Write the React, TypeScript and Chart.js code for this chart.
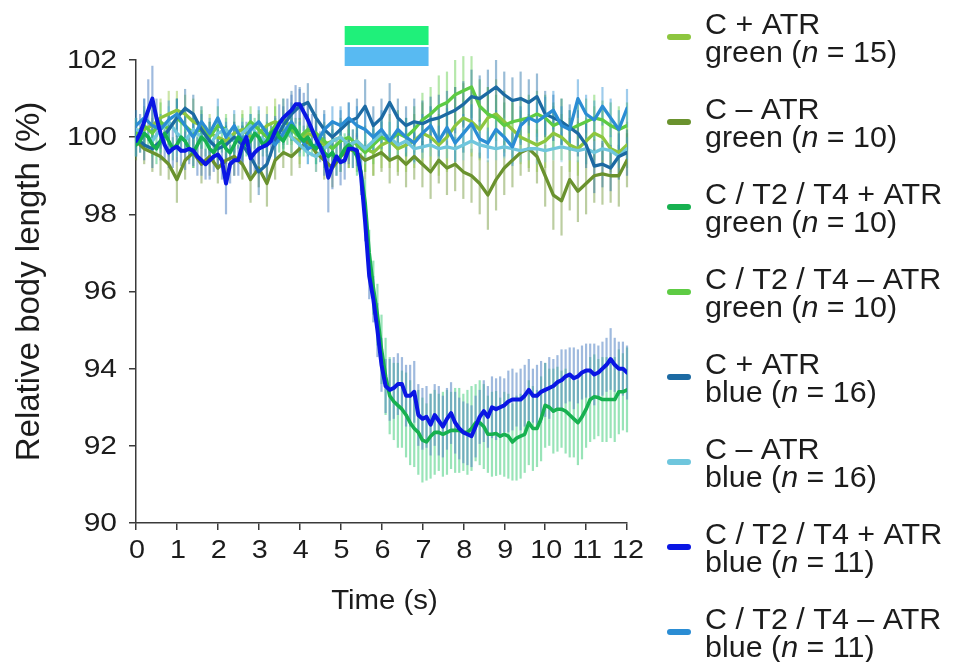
import React, { useEffect, useRef } from "react";
import { Chart, registerables } from "chart.js";

Chart.register(...registerables);

// Axes
const X_MIN = 0;
const X_MAX = 12;
const X_STEP = 1;
const Y_MIN = 90;
const Y_MAX = 102;
const Y_STEP = 2;

// Light stimulus window (s)
const STIM_START = 5.1;
const STIM_END = 7.15;

// Sampling intervals (s)
const FINE_DT = 0.1;
const COARSE_DT = 0.2;

// C / T2 / T4 + ATR, blue light (0.1 s samples)
const CT_ATR_BLUE = [
  99.9, 100.1, 100.4, 100.7, 101.0, 100.5, 100.1, 99.8, 99.6, 99.7,
  99.75, 99.65, 99.65, 99.7, 99.65, 99.5, 99.4, 99.3, 99.4, 99.5,
  99.55, 99.4, 98.8, 99.3, 99.4, 99.4, 99.8, 100.0, 99.45, 99.6,
  99.7, 99.75, 99.8, 99.9, 100.15, 100.35, 100.5, 100.6, 100.7, 100.85,
  100.85, 100.65, 100.45, 100.2, 99.95, 99.75, 99.5, 98.95, 99.25, 99.5,
  99.35, 99.4, 99.7, 99.7, 99.65, 99.0, 97.8, 96.4, 95.8, 95.0,
  94.1, 93.55, 93.45, 93.5, 93.6, 93.6, 93.3, 93.3, 93.4, 92.8,
  92.7, 92.75, 92.55, 92.8, 92.65, 92.5, 92.7, 92.85, 92.6, 92.45,
  92.35, 92.3, 92.25, 92.5, 92.75, 92.9, 92.75, 93.0, 92.95, 93.0,
  93.05, 93.15, 93.2, 93.2, 93.2, 93.3, 93.45, 93.3, 93.3, 93.4,
  93.45, 93.5, 93.55, 93.65, 93.7, 93.8, 93.85, 93.75, 93.8, 93.9,
  93.95, 93.95, 93.85, 93.9, 94.0, 94.1, 94.25, 94.1, 94.0, 94.0,
  93.9,
];
const CT_ATR_BLUE_SEM = [
  0.4, 0.5, 0.6, 0.8, 0.85, 0.5, 0.4, 0.4, 0.4, 0.5,
  0.4, 0.4, 0.5, 0.4, 0.4, 0.5, 0.4, 0.4, 0.5, 0.4,
  0.4, 0.5, 0.8, 0.5, 0.4, 0.4, 0.5, 0.4, 0.4, 0.5,
  0.4, 0.5, 0.4, 0.4, 0.4, 0.5, 0.5, 0.4, 0.4, 0.5,
  0.4, 0.5, 0.4, 0.4, 0.5, 0.4, 0.5, 0.9, 0.6, 0.5,
  0.6, 0.5, 0.4, 0.5, 0.4, 0.5, 0.5, 0.6, 0.6, 0.7,
  0.7, 0.7, 0.8, 0.8, 0.8, 0.7, 0.8, 0.8, 0.8, 0.8,
  0.8, 0.8, 0.8, 0.8, 0.9, 0.8, 0.8, 0.8, 0.8, 0.8,
  0.8, 0.8, 0.8, 0.8, 0.7, 0.8, 0.8, 0.8, 0.8, 0.8,
  0.7, 0.8, 0.8, 0.7, 0.8, 0.8, 0.8, 0.7, 0.8, 0.8,
  0.7, 0.8, 0.7, 0.7, 0.8, 0.7, 0.7, 0.8, 0.7, 0.7,
  0.7, 0.7, 0.8, 0.7, 0.7, 0.7, 0.8, 0.7, 0.7, 0.7,
  0.7,
];

// C / T2 / T4 + ATR, green light (0.1 s samples)
const CT_ATR_GREEN = [
  99.8, 99.9, 100.1, 100.0, 99.8, 99.7, 99.9, 100.1, 99.9, 99.7,
  99.8, 100.0, 99.9, 99.7, 99.6, 99.8, 100.0, 99.9, 99.7, 99.6,
  99.8, 99.9, 99.7, 99.6, 99.8, 100.0, 99.9, 99.8, 99.9, 100.1,
  100.0, 99.8, 99.9, 100.1, 100.2, 100.0, 99.9, 100.1, 100.3, 100.2,
  100.0, 99.9, 100.0, 99.8, 99.7, 99.8, 99.6, 99.5, 99.6, 99.4,
  99.5, 99.7, 99.8, 99.7, 99.5, 99.1, 98.3, 97.0, 96.1, 95.4,
  94.5, 93.8, 93.3, 93.15, 93.05, 92.95, 92.8, 92.6, 92.45, 92.35,
  92.15, 92.1, 92.25, 92.35, 92.35, 92.3, 92.35, 92.4, 92.4, 92.4,
  92.35, 92.35, 92.45, 92.6, 92.6, 92.5, 92.3, 92.3, 92.32, 92.25,
  92.3, 92.25, 92.1, 92.2, 92.25, 92.3, 92.6, 92.45, 92.45, 92.7,
  93.05, 93.0, 92.9, 92.95, 92.95, 92.9, 92.8, 92.7, 92.6, 92.75,
  92.95, 93.2, 93.27, 93.25, 93.2, 93.2, 93.2, 93.2, 93.4, 93.4,
  93.45,
];
const CT_ATR_GREEN_SEM = [
  0.3, 0.3, 0.4, 0.3, 0.3, 0.4, 0.3, 0.3, 0.4, 0.3,
  0.3, 0.4, 0.3, 0.3, 0.4, 0.3, 0.3, 0.4, 0.3, 0.3,
  0.4, 0.3, 0.3, 0.4, 0.3, 0.3, 0.4, 0.3, 0.3, 0.4,
  0.3, 0.3, 0.4, 0.3, 0.3, 0.4, 0.3, 0.3, 0.4, 0.3,
  0.3, 0.4, 0.3, 0.3, 0.4, 0.3, 0.4, 0.4, 0.3, 0.4,
  0.4, 0.4, 0.4, 0.5, 0.5, 0.5, 0.6, 0.6, 0.7, 0.8,
  0.9, 1.0, 1.0, 1.0, 1.1, 1.0, 1.1, 1.1, 1.0, 1.1,
  1.1, 1.0, 1.1, 1.1, 1.0, 1.1, 1.1, 1.0, 1.1, 1.1,
  1.0, 1.1, 1.1, 1.0, 1.1, 1.1, 1.0, 1.1, 1.1, 1.0,
  1.1, 1.1, 1.0, 1.1, 1.1, 1.0, 1.1, 1.1, 1.0, 1.1,
  1.1, 1.0, 1.1, 1.1, 1.0, 1.1, 1.1, 1.0, 1.1, 1.1,
  1.0, 1.1, 1.1, 1.0, 1.1, 1.1, 1.0, 1.1, 1.1, 1.0,
  1.1,
];

// C + ATR, green light (0.2 s samples)
const C_ATR_GREEN = [
  100.0, 100.2, 100.3, 100.5, 100.6, 100.7, 100.6, 100.4, 100.3, 100.1,
  100.0, 99.9, 100.1, 100.2, 100.0, 100.1, 100.3, 100.4, 100.2, 100.0,
  99.9, 100.1, 100.0, 99.8, 99.9, 100.0, 99.8, 99.9, 99.7, 99.6,
  99.8, 99.9, 99.7, 99.8, 99.9, 100.1, 100.0, 99.8, 100.0, 100.3,
  100.5, 100.4, 100.2, 100.5, 100.6, 100.4, 100.2, 100.0, 99.9, 99.8,
  99.9, 100.1, 100.0, 99.8, 99.7, 99.9, 100.1, 100.0, 99.7, 99.6,
  99.8,
];
const C_ATR_GREEN_SEM = [
  0.5, 0.5, 0.6, 0.5, 0.6, 0.5, 0.5, 0.6, 0.5, 0.5,
  0.5, 0.6, 0.5, 0.5, 0.6, 0.5, 0.5, 0.6, 0.5, 0.5,
  0.6, 0.5, 0.5, 0.6, 0.5, 0.5, 0.6, 0.5, 0.6, 0.6,
  0.6, 0.7, 0.6, 0.7, 0.7, 0.8, 0.8, 0.8, 0.9, 1.0,
  0.9, 0.9, 0.8, 0.8, 0.9, 0.8, 0.7, 0.7, 0.7, 0.7,
  0.7, 0.7, 0.6, 0.7, 0.7, 0.6, 0.7, 0.7, 0.6, 0.6,
  0.6,
];

// C - ATR, green light (0.2 s samples)
const C_NOATR_GREEN = [
  99.9, 99.7, 99.6, 99.5, 99.3, 98.9, 99.4, 99.6, 99.3, 99.5,
  99.2, 99.4, 99.5, 99.3, 98.9, 99.2, 98.8, 99.4, 99.6, 99.5,
  99.7, 99.9, 99.6, 99.4, 99.2, 99.5, 99.7, 99.6, 99.4, 99.5,
  99.6, 99.4, 99.5, 99.3, 99.5, 99.3, 99.1, 99.4, 99.2, 99.3,
  99.1, 99.0, 98.8, 98.5, 98.9, 99.2, 99.4, 99.6, 99.7, 99.5,
  99.0, 98.5, 98.35, 98.9, 98.6, 98.8, 99.0, 99.05, 99.0, 99.0,
  99.4,
];
const C_NOATR_GREEN_SEM = [
  0.5, 0.4, 0.5, 0.5, 0.4, 0.6, 0.5, 0.4, 0.5, 0.5,
  0.4, 0.5, 0.5, 0.4, 0.6, 0.5, 0.6, 0.5, 0.4, 0.5,
  0.5, 0.4, 0.5, 0.5, 0.5, 0.4, 0.5, 0.5, 0.5, 0.5,
  0.5, 0.6, 0.5, 0.6, 0.6, 0.6, 0.7, 0.6, 0.7, 0.7,
  0.7, 0.7, 0.8, 0.9, 0.8, 0.7, 0.7, 0.6, 0.6, 0.7,
  0.8, 0.9, 0.9, 0.8, 0.8, 0.8, 0.7, 0.8, 0.7, 0.8,
  0.7,
];

// C / T2 / T4 - ATR, green light (0.2 s samples)
const CT_NOATR_GREEN = [
  100.1, 100.3, 100.1, 100.4, 100.2, 100.5, 100.3, 100.1, 100.2, 100.0,
  100.3, 100.2, 99.9, 100.1, 100.4, 100.2, 100.0, 100.3, 100.5, 100.2,
  100.0, 100.2, 100.1, 99.9, 99.7, 99.9, 100.0, 99.8, 99.6, 99.8,
  100.0, 99.9, 100.1, 100.0, 100.2, 100.45, 100.6, 100.8, 100.9, 101.1,
  101.2, 101.3, 100.8, 100.6, 100.5, 100.3, 100.4, 100.45, 100.5, 100.6,
  100.5, 100.3, 100.4, 100.2, 100.3, 100.4, 100.5, 100.45, 100.3, 100.2,
  100.3,
];
const CT_NOATR_GREEN_SEM = [
  0.4, 0.5, 0.4, 0.5, 0.4, 0.5, 0.5, 0.4, 0.5, 0.4,
  0.5, 0.4, 0.5, 0.5, 0.4, 0.5, 0.4, 0.5, 0.5, 0.4,
  0.5, 0.4, 0.5, 0.4, 0.5, 0.5, 0.4, 0.5, 0.5, 0.5,
  0.5, 0.5, 0.6, 0.5, 0.6, 0.7, 0.7, 0.8, 0.8, 0.9,
  0.9, 0.8, 0.7, 0.7, 0.6, 0.6, 0.6, 0.6, 0.6, 0.6,
  0.6, 0.6, 0.6, 0.5, 0.6, 0.6, 0.6, 0.5, 0.6, 0.6,
  0.6,
];

// C + ATR, blue light (0.2 s samples)
const C_ATR_BLUE = [
  100.0, 99.8, 99.7, 99.9, 100.2, 100.5, 100.75, 100.6, 100.2, 99.9,
  99.7, 99.8, 100.0, 99.8, 99.5, 99.1, 99.3, 99.9, 100.3, 100.6,
  100.8, 100.9, 100.5, 100.2, 100.0, 100.2, 100.4, 100.5, 100.8, 100.3,
  100.5, 100.9, 100.5, 100.3, 100.4, 100.35, 100.45, 100.5, 100.6, 100.7,
  100.85, 101.05, 101.0, 101.15, 101.3, 101.1, 100.95, 101.0, 100.9, 101.05,
  100.6, 100.5, 100.4, 100.25, 100.1, 99.8, 99.25, 99.3, 99.2, 99.5,
  99.6,
];
const C_ATR_BLUE_SEM = [
  0.5, 0.4, 0.5, 0.5, 0.4, 0.5, 0.5, 0.5, 0.4, 0.5,
  0.5, 0.5, 0.4, 0.5, 0.5, 0.6, 0.5, 0.5, 0.5, 0.6,
  0.5, 0.5, 0.5, 0.5, 0.4, 0.5, 0.5, 0.5, 0.7, 0.5,
  0.5, 0.5, 0.5, 0.5, 0.6, 0.6, 0.6, 0.6, 0.6, 0.6,
  0.6, 0.7, 0.6, 0.6, 0.7, 0.6, 0.6, 0.7, 0.6, 0.6,
  0.6, 0.6, 0.6, 0.6, 0.6, 0.6, 0.7, 0.6, 0.6, 0.6,
  0.6,
];

// C - ATR, blue light (0.2 s samples)
const C_NOATR_BLUE = [
  100.2, 100.1, 99.9, 100.2, 100.4, 100.1, 99.9, 100.2, 100.0, 99.8,
  100.1, 100.2, 99.9, 100.1, 100.3, 100.0, 99.9, 100.2, 100.3, 100.0,
  99.8, 99.6, 99.5, 99.7, 99.9, 100.0, 99.8, 99.9, 99.7, 99.9,
  100.1, 100.0, 99.8, 99.9, 99.7, 99.75, 99.8, 99.7, 99.75, 99.7,
  99.8, 99.9, 99.8, 99.75, 99.7, 99.75, 99.7, 99.65, 99.7, 99.7,
  99.65, 99.7, 99.75, 99.7, 99.65, 99.7, 99.6, 99.7, 99.65, 99.5,
  99.7,
];
const C_NOATR_BLUE_SEM = [
  0.3, 0.4, 0.3, 0.3, 0.4, 0.3, 0.3, 0.4, 0.3, 0.3,
  0.4, 0.3, 0.3, 0.4, 0.3, 0.3, 0.4, 0.3, 0.3, 0.4,
  0.3, 0.3, 0.4, 0.3, 0.3, 0.4, 0.3, 0.3, 0.4, 0.3,
  0.3, 0.4, 0.3, 0.3, 0.4, 0.3, 0.3, 0.4, 0.3, 0.3,
  0.4, 0.3, 0.3, 0.4, 0.3, 0.3, 0.4, 0.3, 0.3, 0.4,
  0.3, 0.3, 0.4, 0.3, 0.3, 0.4, 0.3, 0.3, 0.4, 0.3,
  0.3,
];

// C / T2 / T4 - ATR, blue light (0.2 s samples)
const CT_NOATR_BLUE = [
  100.3, 100.5, 100.3, 100.2, 100.45, 100.6, 100.3, 100.0, 100.4, 100.1,
  100.5, 100.0, 100.3, 99.9, 100.2, 100.4, 100.1, 99.8, 100.1, 100.4,
  100.0, 99.7, 99.8, 100.2, 100.4, 100.3, 100.5, 100.3, 100.2, 100.0,
  100.2, 99.9, 100.2, 100.0, 99.85, 100.1, 100.3, 99.9, 100.25, 99.85,
  100.1, 100.35, 99.95, 99.85, 100.2, 100.0, 99.75, 100.3, 100.5, 100.4,
  100.55, 100.7, 100.3, 100.2, 101.0, 100.6, 100.45, 100.8, 100.5, 100.2,
  100.75,
];
const CT_NOATR_BLUE_SEM = [
  0.4, 0.5, 0.4, 0.4, 0.5, 0.4, 0.4, 0.5, 0.4, 0.4,
  0.5, 0.4, 0.4, 0.5, 0.4, 0.4, 0.5, 0.4, 0.4, 0.5,
  0.4, 0.4, 0.5, 0.4, 0.4, 0.5, 0.4, 0.5, 0.5, 0.4,
  0.5, 0.5, 0.4, 0.5, 0.5, 0.5, 0.5, 0.4, 0.5, 0.5,
  0.5, 0.5, 0.5, 0.4, 0.5, 0.5, 0.5, 0.5, 0.4, 0.5,
  0.5, 0.5, 0.5, 0.5, 0.5, 0.5, 0.5, 0.5, 0.5, 0.5,
  0.5,
];

type Series = {
  label: string;
  light: string;
  n: number;
  color: string;
  barColor: string;
  width: number;
  order: number;
  dt: number;
  values: number[];
  sem: number[];
};

// Legend order, top to bottom. Lower "order" is drawn on top.
const SERIES: Series[] = [
  { label: "C + ATR", light: "green", n: 15, color: "#8dc63f", barColor: "rgba(141,198,63,0.45)", width: 3.3, order: 6, dt: COARSE_DT, values: C_ATR_GREEN, sem: C_ATR_GREEN_SEM },
  { label: "C \u2013 ATR", light: "green", n: 10, color: "#6a922e", barColor: "rgba(106,146,46,0.45)", width: 3.3, order: 7, dt: COARSE_DT, values: C_NOATR_GREEN, sem: C_NOATR_GREEN_SEM },
  { label: "C / T2 / T4 + ATR", light: "green", n: 10, color: "#17b150", barColor: "rgba(70,205,125,0.55)", width: 3.6, order: 1, dt: FINE_DT, values: CT_ATR_GREEN, sem: CT_ATR_GREEN_SEM },
  { label: "C / T2 / T4 \u2013 ATR", light: "green", n: 10, color: "#5ecb44", barColor: "rgba(94,203,68,0.45)", width: 3.3, order: 5, dt: COARSE_DT, values: CT_NOATR_GREEN, sem: CT_NOATR_GREEN_SEM },
  { label: "C + ATR", light: "blue", n: 16, color: "#1c6aa3", barColor: "rgba(28,106,163,0.45)", width: 3.3, order: 3, dt: COARSE_DT, values: C_ATR_BLUE, sem: C_ATR_BLUE_SEM },
  { label: "C \u2013 ATR", light: "blue", n: 16, color: "#6fc6dd", barColor: "rgba(111,198,221,0.45)", width: 3.3, order: 4, dt: COARSE_DT, values: C_NOATR_BLUE, sem: C_NOATR_BLUE_SEM },
  { label: "C / T2 / T4 + ATR", light: "blue", n: 11, color: "#0a16e4", barColor: "rgba(80,130,195,0.55)", width: 4, order: 0, dt: FINE_DT, values: CT_ATR_BLUE, sem: CT_ATR_BLUE_SEM },
  { label: "C / T2 / T4 \u2013 ATR", light: "blue", n: 11, color: "#2b8dd4", barColor: "rgba(43,141,212,0.45)", width: 3.3, order: 2, dt: COARSE_DT, values: CT_NOATR_BLUE, sem: CT_NOATR_BLUE_SEM },
];

const AXIS_COLOR = "#3a3a3a";
const TEXT_COLOR = "#1c1c1c";
const FONT_FAMILY = "'Liberation Sans', Arial, Helvetica, sans-serif";

function sampleTime(i: number, dt: number) {
  return Math.round(i * dt * 100) / 100;
}

function drawStretched(
  ctx: CanvasRenderingContext2D,
  text: string,
  x: number,
  y: number,
  sx: number,
  align: CanvasTextAlign,
  baseline: CanvasTextBaseline
) {
  ctx.save();
  ctx.translate(x, y);
  ctx.scale(sx, 1);
  ctx.textAlign = align;
  ctx.textBaseline = baseline;
  ctx.fillText(text, 0, 0);
  ctx.restore();
}

const errorBarsPlugin = {
  id: "errorBars",
  beforeDatasetsDraw(chart: any) {
    const ctx: CanvasRenderingContext2D = chart.ctx;
    const yScale = chart.scales.y;
    const drawOrder = SERIES.map((s, i) => ({ s, i })).sort((a, b) => b.s.order - a.s.order);
    ctx.save();
    ctx.lineWidth = 2.2;
    ctx.lineCap = "butt";
    for (const { s, i } of drawOrder) {
      const meta = chart.getDatasetMeta(i);
      ctx.strokeStyle = s.barColor;
      meta.data.forEach((pt: any, j: number) => {
        const v = s.values[j];
        const e = s.sem[j];
        const top = yScale.getPixelForValue(v + e);
        const bottom = yScale.getPixelForValue(v - e);
        ctx.beginPath();
        ctx.moveTo(pt.x, top);
        ctx.lineTo(pt.x, bottom);
        ctx.stroke();
      });
    }
    ctx.restore();
  },
};

const decorationsPlugin = {
  id: "decorations",
  afterDraw(chart: any) {
    const ctx: CanvasRenderingContext2D = chart.ctx;
    const xScale = chart.scales.x;
    const yScale = chart.scales.y;
    const area = chart.chartArea;

    // Stimulus bars above the plot
    const sx0 = xScale.getPixelForValue(STIM_START);
    const sx1 = xScale.getPixelForValue(STIM_END);
    ctx.save();
    ctx.fillStyle = "#1ff07a";
    ctx.fillRect(sx0, area.top - 34, sx1 - sx0, 19);
    ctx.fillStyle = "#58baf2";
    ctx.fillRect(sx0, area.top - 13, sx1 - sx0, 19);
    ctx.restore();

    ctx.save();
    ctx.fillStyle = TEXT_COLOR;

    // Y tick labels
    ctx.font = `25px ${FONT_FAMILY}`;
    for (let v = Y_MIN; v <= Y_MAX; v += Y_STEP) {
      drawStretched(ctx, String(v), area.left - 19, yScale.getPixelForValue(v) + 1, 1.2, "right", "middle");
    }
    // X tick labels
    for (let t = X_MIN; t <= X_MAX; t += X_STEP) {
      drawStretched(ctx, String(t), xScale.getPixelForValue(t) + 1, area.bottom + 35, 1.15, "center", "alphabetic");
    }

    // Axis titles
    ctx.font = `28px ${FONT_FAMILY}`;
    drawStretched(ctx, "Time (s)", (area.left + area.right) / 2 + 3, area.bottom + 86, 1.05, "center", "alphabetic");

    ctx.save();
    ctx.translate(39, (area.top + area.bottom) / 2 - 10);
    ctx.rotate(-Math.PI / 2);
    ctx.font = `33px ${FONT_FAMILY}`;
    ctx.textAlign = "center";
    ctx.textBaseline = "alphabetic";
    ctx.fillText("Relative body length (%)", 0, 0);
    ctx.restore();

    // Legend
    const legendX = 670;
    const legendTop = 37;
    const legendGap = 85;
    const textX = 705;
    const sxL = 1.05;
    SERIES.forEach((s, k) => {
      const y = legendTop + k * legendGap;
      ctx.save();
      ctx.strokeStyle = s.color;
      ctx.lineWidth = 6;
      ctx.lineCap = "round";
      ctx.beginPath();
      ctx.moveTo(legendX, y);
      ctx.lineTo(legendX + 18, y);
      ctx.stroke();
      ctx.restore();

      ctx.fillStyle = TEXT_COLOR;
      ctx.font = `29px ${FONT_FAMILY}`;
      drawStretched(ctx, s.label, textX, y - 3, sxL, "left", "alphabetic");

      // second line: light colour and sample size with italic n
      let x = textX;
      const y2 = y + 25;
      const part1 = `${s.light} (`;
      ctx.font = `29px ${FONT_FAMILY}`;
      drawStretched(ctx, part1, x, y2, sxL, "left", "alphabetic");
      x += ctx.measureText(part1).width * sxL;
      ctx.font = `italic 29px ${FONT_FAMILY}`;
      drawStretched(ctx, "n", x, y2, sxL, "left", "alphabetic");
      x += ctx.measureText("n").width * sxL;
      ctx.font = `29px ${FONT_FAMILY}`;
      drawStretched(ctx, ` = ${s.n})`, x, y2, sxL, "left", "alphabetic");
    });
    ctx.restore();
  },
};

export default function App() {
  const canvasRef = useRef<HTMLCanvasElement | null>(null);

  useEffect(() => {
    const canvas = canvasRef.current;
    if (!canvas) return;

    const datasets = SERIES.map((s) => ({
      label: `${s.label} ${s.light}`,
      data: s.values.map((v, i) => ({ x: sampleTime(i, s.dt), y: v })),
      borderColor: s.color,
      backgroundColor: s.color,
      borderWidth: s.width,
      pointRadius: 0,
      tension: 0,
      fill: false,
      order: s.order,
      borderJoinStyle: "round" as const,
      borderCapStyle: "round" as const,
    }));

    const axisGrid = {
      display: true,
      drawOnChartArea: false,
      drawTicks: true,
      tickLength: 7,
      color: AXIS_COLOR,
      lineWidth: 1.5,
    };

    const chart = new Chart(canvas, {
      type: "line",
      data: { datasets },
      options: {
        responsive: false,
        animation: false,
        devicePixelRatio: 1,
        events: [],
        layout: { padding: { left: 126, right: 329, top: 60, bottom: 129 } },
        plugins: {
          legend: { display: false },
          tooltip: { enabled: false },
          title: { display: false },
        },
        scales: {
          x: {
            type: "linear",
            min: X_MIN,
            max: X_MAX,
            ticks: { display: false, stepSize: X_STEP },
            grid: axisGrid,
            border: { display: true, color: AXIS_COLOR, width: 1.5 },
            afterFit: (scale: any) => {
              scale.height = 10;
            },
          },
          y: {
            type: "linear",
            min: Y_MIN,
            max: Y_MAX,
            ticks: { display: false, stepSize: Y_STEP },
            grid: axisGrid,
            border: { display: true, color: AXIS_COLOR, width: 1.5 },
            afterFit: (scale: any) => {
              scale.width = 10;
            },
          },
        },
      } as any,
      plugins: [errorBarsPlugin, decorationsPlugin],
    });

    return () => {
      chart.destroy();
    };
  }, []);

  return (
    <div style={{ position: "absolute", left: 0, top: 0, width: 956, height: 662, background: "#ffffff" }}>
      <canvas ref={canvasRef} width={956} height={662} style={{ display: "block" }} />
    </div>
  );
}
